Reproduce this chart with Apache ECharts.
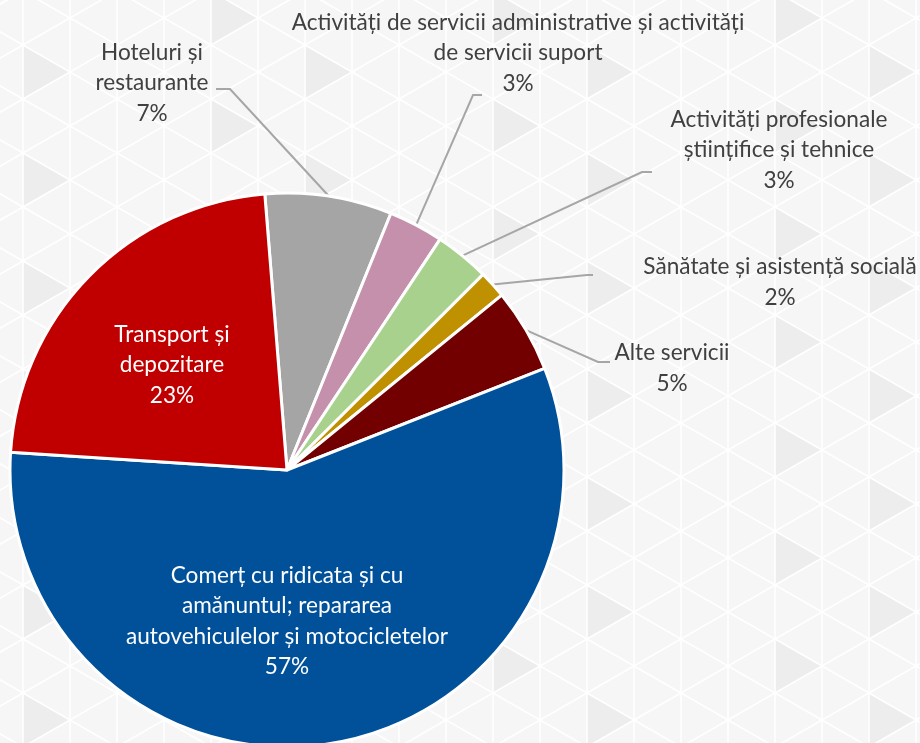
<!DOCTYPE html>
<html lang="ro">
<head>
<meta charset="UTF-8">
<title>Structura pe activități</title>
<script src="https://cdn.jsdelivr.net/npm/echarts@6/dist/echarts.min.js"></script>
<style>
  html, body { margin: 0; padding: 0; }
  body {
    width: 920px;
    height: 743px;
    overflow: hidden;
    background-color: #f6f6f6;
    background-image: url("data:image/svg+xml,%3Csvg xmlns='http://www.w3.org/2000/svg' width='282' height='108'%3E%3Cg fill='%23ededed'%3E%3Cpath d='M0 0L0 54L47 27Z'/%3E%3Cpath d='M188 54L188 108L235 81Z'/%3E%3C/g%3E%3Cg stroke='%23ffffff' stroke-width='1.6' fill='none'%3E%3Cpath d='M0 0V108M47 0V108M94 0V108M141 0V108M188 0V108M235 0V108M282 0V108'/%3E%3Cpath d='M0 -162L282 0M0 -108L282 54M0 -54L282 108M0 0L282 162M0 54L282 216M0 108L282 270'/%3E%3Cpath d='M0 0L282 -162M0 54L282 -108M0 108L282 -54M0 162L282 0M0 216L282 54M0 270L282 108'/%3E%3C/g%3E%3C/svg%3E");
    background-position: 23px 45px;
  }
  #main { width: 920px; height: 743px; }
</style>
</head>
<body>
<div id="main"></div>
<script>
  // categorii (cu ruperile de rând din grafic) și ponderi în %
  const categories = [
    'Hoteluri și\nrestaurante',
    'Activități de servicii administrative și activități\nde servicii suport',
    'Activități profesionale\nștiințifice și tehnice',
    'Sănătate și asistență socială',
    'Alte servicii',
    'Comerț cu ridicata și cu\namănuntul; repararea\nautovehiculelor și motocicletelor',
    'Transport și\ndepozitare'
  ];
  const shares = [7.4, 3.2, 3.2, 1.6, 4.9, 57.0, 22.7];
  const colors = ['#a5a5a5', '#c490ab', '#a9d18e', '#bf9000', '#720000', '#00519a', '#c00000'];
  const insideIdx = [5, 6];

  // unde stau etichetele și cotul liniilor de legătură
  const labelSpots = [[152, 83], [518, 53], [779, 150], [780, 282], [672, 368], [287, 621], [172, 365]];
  const guideBends = [[[230, 89], [216, 89]], [[473, 95], [482, 95]], [[642, 172], [652, 172]],
                      [[587, 275], [593, 275]], [[598, 362], [610, 362]]];

  const chart = echarts.init(document.getElementById('main'));

  const data = categories.map((name, i) => {
    const inside = insideIdx.includes(i);
    return {
      name: name,
      value: shares[i],
      itemStyle: { color: colors[i] },
      label: inside ? { position: 'inside', color: '#ffffff' } : { position: 'outside', color: '#404040' },
      labelLine: { show: !inside }
    };
  });

  chart.setOption({
    backgroundColor: 'transparent',
    animation: false,
    series: [{
      type: 'pie',
      center: [287, 470],
      radius: 277,
      startAngle: 94.6,
      clockwise: true,
      avoidLabelOverlap: false,
      data: data,
      itemStyle: { borderColor: '#ffffff', borderWidth: 3 },
      label: {
        show: true,
        fontFamily: 'Lato, "Noto Sans", sans-serif',
        fontSize: 22.6,
        lineHeight: 30.5,
        formatter: p => p.name + '\n' + Math.round(p.value) + '%'
      },
      labelLine: {
        smooth: false,
        lineStyle: { color: '#a6a6a6', width: 2 }
      },
      emphasis: { disabled: true },
      labelLayout: function (params) {
        const i = params.dataIndex;
        const spot = labelSpots[i];
        const out = { x: spot[0], y: spot[1], align: 'center', verticalAlign: 'middle' };
        if (!insideIdx.includes(i) && params.labelLinePoints) {
          out.labelLinePoints = [params.labelLinePoints[0], guideBends[i][0], guideBends[i][1]];
        }
        return out;
      }
    }]
  });
</script>
</body>
</html>
